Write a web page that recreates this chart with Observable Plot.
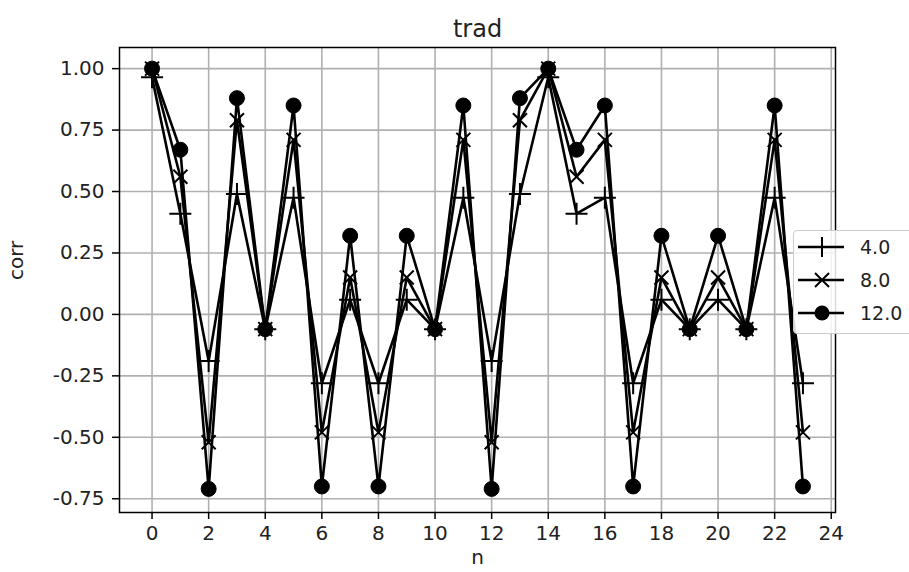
<!DOCTYPE html>
<html>
<head>
<meta charset="utf-8">
<script src="https://cdn.jsdelivr.net/npm/d3@7"></script>
<script src="https://cdn.jsdelivr.net/npm/@observablehq/plot@0.6"></script>
<style>
  html, body { margin: 0; padding: 0; background: #fff; overflow: hidden; }
  #wrap { position: relative; width: 909px; height: 572px; font-family: "DejaVu Sans", sans-serif; }
  #legend { position: absolute; left: 793px; top: 230px; width: 130px; height: 104px;
    border: 1px solid #cccccc; border-radius: 4px; background: rgba(255,255,255,0.85); box-sizing: border-box; }
</style>
</head>
<body>
<div id="wrap"><div id="chart"></div><div id="legend"></div></div>
<script>
const title = "trad";
const xLabel = "n";
const yLabel = "corr";
const nValues = [0,1,2,3,4,5,6,7,8,9,10,11,12,13,14,15,16,17,18,19,20,21,22,23];
const seriesNames = ["4.0", "8.0", "12.0"];
const series4 = [0.965,0.41,-0.19,0.49,-0.06,0.475,-0.28,0.06,-0.28,0.06,-0.06,0.475,-0.19,0.49,0.965,0.41,0.475,-0.28,0.06,-0.06,0.06,-0.06,0.475,-0.28];
const series8 = [1.0,0.56,-0.52,0.79,-0.06,0.71,-0.48,0.15,-0.48,0.15,-0.06,0.71,-0.52,0.79,1.0,0.56,0.71,-0.48,0.15,-0.06,0.15,-0.06,0.71,-0.48];
const series12 = [1.0,0.67,-0.71,0.88,-0.06,0.85,-0.70,0.32,-0.70,0.32,-0.06,0.85,-0.71,0.88,1.0,0.67,0.85,-0.70,0.32,-0.06,0.32,-0.06,0.85,-0.70];
const xTicks = [0,2,4,6,8,10,12,14,16,18,20,22,24];
const yTicks = [-0.75,-0.5,-0.25,0,0.25,0.5,0.75,1.0];

const plusSym = {draw(ctx, size){const r=Math.sqrt(size/Math.PI); ctx.moveTo(-r,0); ctx.lineTo(r,0); ctx.moveTo(0,-r); ctx.lineTo(0,r);}};
const timesSym = {draw(ctx, size){const r=Math.sqrt(size/Math.PI); ctx.moveTo(-r,-r); ctx.lineTo(r,r); ctx.moveTo(-r,r); ctx.lineTo(r,-r);}};

const allSeries = [series4, series8, series12];
const tables = allSeries.map((vals, k) => nValues.map((n, i) => ({n, v: vals[i], s: seriesNames[k]})));

const font = "DejaVu Sans, sans-serif";
const marks = [
  Plot.gridX(xTicks, {stroke: "#b0b0b0", strokeOpacity: 1, strokeWidth: 1.6}),
  Plot.gridY(yTicks, {stroke: "#b0b0b0", strokeOpacity: 1, strokeWidth: 1.6}),
  Plot.axisX(xTicks, {tickSize: 7, tickPadding: 6, fontSize: 20, label: null, strokeWidth: 1.5, fill: "#222"}),
  Plot.axisY(yTicks, {tickSize: 7, tickPadding: 8, fontSize: 20, label: null, strokeWidth: 1.5, tickFormat: d => d.toFixed(2), fill: "#222"}),
];
const sym = [{symbol: plusSym, r: 11, fill: "none", stroke: "black", strokeWidth: 2},
             {symbol: timesSym, r: 7, fill: "none", stroke: "black", strokeWidth: 2},
             {symbol: "circle", r: 7.5, fill: "black", stroke: "black", strokeWidth: 1}];
tables.forEach((t, k) => {
  marks.push(Plot.line(t, {x: "n", y: "v", stroke: "black", strokeWidth: 2.6}));
  marks.push(Plot.dot(t, {x: "n", y: "v", ...sym[k]}));
});
marks.push(Plot.frame({stroke: "black", strokeWidth: 1.5}));
marks.push(Plot.text([title], {frameAnchor: "top", dy: -28, fontSize: 24, fill: "#222"}));
marks.push(Plot.text([xLabel], {frameAnchor: "bottom", dy: 51, fontSize: 20, fill: "#222"}));
marks.push(Plot.text([yLabel], {frameAnchor: "left", dx: -103, rotate: -90, fontSize: 20, fill: "#222"}));

const chart = Plot.plot({
  width: 909, height: 572,
  marginLeft: 119, marginRight: 74, marginTop: 47, marginBottom: 60,
  style: {fontFamily: font, fontSize: "20px", background: "white", overflow: "visible"},
  x: {domain: [-1.15, 24.15]},
  y: {domain: [-0.806, 1.086]},
  marks
});
document.getElementById("chart").appendChild(chart);

// legend
const lg = d3.select("#legend").append("svg").attr("width", 130).attr("height", 104)
  .style("font-family", font);
seriesNames.forEach((name, k) => {
  const y = 16 + k * 33;
  const g = lg.append("g");
  g.append("line").attr("x1", 4).attr("x2", 50).attr("y1", y).attr("y2", y).attr("stroke", "black").attr("stroke-width", 2.5);
  if (k === 0) {
    g.append("path").attr("d", `M${28-11},${y}H${28+11}M28,${y-10}V${y+10}`).attr("stroke","black").attr("stroke-width",2).attr("fill","none");
  } else if (k === 1) {
    g.append("path").attr("d", `M21,${y-7}L35,${y+7}M21,${y+7}L35,${y-7}`).attr("stroke","black").attr("stroke-width",2).attr("fill","none");
  } else {
    g.append("circle").attr("cx", 28).attr("cy", y).attr("r", 7.5).attr("fill", "black");
  }
  g.append("text").attr("x", 66).attr("y", y).attr("dy", "0.35em").attr("font-size", 19).attr("fill", "#222").text(name);
});
</script>
</body>
</html>
